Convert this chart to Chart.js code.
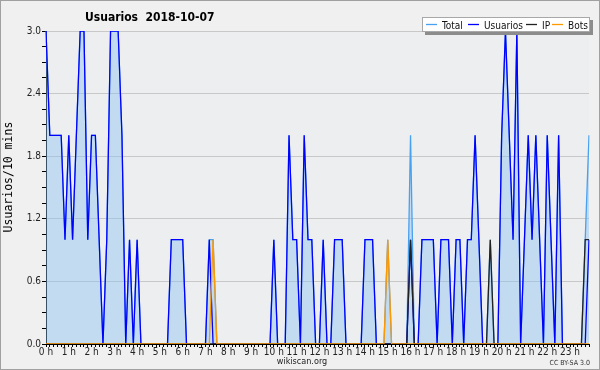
<!DOCTYPE html>
<html>
<head>
<meta charset="utf-8">
<title>Usuarios 2018-10-07</title>
<script src="https://cdn.jsdelivr.net/npm/chart.js@4.4.0/dist/chart.umd.min.js"></script>
<style>
  html, body { margin: 0; padding: 0; background: #f0f0f0; }
  canvas { display: block; }
</style>
</head>
<body>
<canvas id="chart" width="600" height="370"></canvas>
<script>
// una muestra cada 10 minutos, 144 por día
const hourLabels = ['0 h','1 h','2 h','3 h','4 h','5 h','6 h','7 h','8 h','9 h','10 h','11 h',
  '12 h','13 h','14 h','15 h','16 h','17 h','18 h','19 h','20 h','21 h','22 h','23 h'];

const timeSlots = [];
for (let h = 0; h < 24; h++) {
  for (let m = 0; m < 60; m += 10) {
    timeSlots.push(h + ':' + String(m).padStart(2, '0'));
  }
}

const total = [
  3,2,2,2,2,1,2,1,2,3,  3,1,2,2,1,0,1,3,3,3,  2,0,1,0,1,0,0,0,0,0,
  0,0,0,1,1,1,1,0,0,0,  0,0,0,1,1,0,0,0,0,0,  0,0,0,0,0,0,0,0,0,0,
  1,0,0,0,2,1,1,0,2,1,  1,0,0,1,0,0,1,1,1,0,  0,0,0,0,1,1,1,0,0,0,
  1,0,0,0,0,0,2,0,0,1,  1,1,1,0,1,1,1,0,1,1,  0,1,1,2,1,0,0,1,0,0,
  2,3,2,1,3,0,1,2,1,2,  1,0,2,1,0,2,0,0,0,0,  0,0,1,2
];

const usuarios = [
  3,2,2,2,2,1,2,1,2,3,  3,1,2,2,1,0,1,3,3,3,  2,0,1,0,1,0,0,0,0,0,
  0,0,0,1,1,1,1,0,0,0,  0,0,0,1,0,0,0,0,0,0,  0,0,0,0,0,0,0,0,0,0,
  1,0,0,0,2,1,1,0,2,1,  1,0,0,1,0,0,1,1,1,0,  0,0,0,0,1,1,1,0,0,0,
  0,0,0,0,0,0,1,0,0,1,  1,1,1,0,1,1,1,0,1,1,  0,1,1,2,1,0,0,0,0,0,
  2,3,2,1,3,0,1,2,1,2,  1,0,2,1,0,2,0,0,0,0,  0,0,0,1
];

const ip = [
  0,0,0,0,0,0,0,0,0,0,  0,0,0,0,0,0,0,0,0,0,  0,0,0,0,0,0,0,0,0,0,
  0,0,0,0,0,0,0,0,0,0,  0,0,0,0,0,0,0,0,0,0,  0,0,0,0,0,0,0,0,0,0,
  0,0,0,0,0,0,0,0,0,0,  0,0,0,0,0,0,0,0,0,0,  0,0,0,0,0,0,0,0,0,0,
  0,0,0,0,0,0,1,0,0,0,  0,0,0,0,0,0,0,0,0,0,  0,0,0,0,0,0,0,1,0,0,
  0,0,0,0,0,0,0,0,0,0,  0,0,0,0,0,0,0,0,0,0,  0,0,1,1
];

const bots = [
  0,0,0,0,0,0,0,0,0,0,  0,0,0,0,0,0,0,0,0,0,  0,0,0,0,0,0,0,0,0,0,
  0,0,0,0,0,0,0,0,0,0,  0,0,0,0,1,0,0,0,0,0,  0,0,0,0,0,0,0,0,0,0,
  0,0,0,0,0,0,0,0,0,0,  0,0,0,0,0,0,0,0,0,0,  0,0,0,0,0,0,0,0,0,0,
  1,0,0,0,0,0,0,0,0,0,  0,0,0,0,0,0,0,0,0,0,  0,0,0,0,0,0,0,0,0,0,
  0,0,0,0,0,0,0,0,0,0,  0,0,0,0,0,0,0,0,0,0,  0,0,0,0
];

const seriesNames = ['Total', 'Usuarios', 'IP', 'Bots'];
const seriesColors = ['#48a0f0', '#0000ff', '#222222', '#ff9900'];

const FONT = "'DejaVu Sans Condensed', 'DejaVu Sans', sans-serif";
const MONO = "'DejaVu Sans Mono', monospace";

function isMajor(v) {
  return Math.abs(v / 0.6 - Math.round(v / 0.6)) < 1e-6;
}

// fondo, títulos, leyenda y pie
const decoPlugin = {
  id: 'deco',
  beforeDraw(chart) {
    const { ctx, chartArea: a } = chart;
    ctx.save();
    ctx.fillStyle = '#f0f0f0';
    ctx.fillRect(0, 0, chart.width, chart.height);
    ctx.fillStyle = '#edeef0';
    ctx.fillRect(a.left, a.top, a.right - a.left, a.bottom - a.top);
    ctx.restore();
  },
  afterDraw(chart) {
    const ctx = chart.ctx;
    ctx.save();

    // marco exterior
    ctx.strokeStyle = '#a0a0a0';
    ctx.lineWidth = 1;
    ctx.strokeRect(0.5, 0.5, chart.width - 1, chart.height - 1);

    // título
    ctx.fillStyle = '#000';
    ctx.font = "bold 12px " + FONT;
    ctx.textBaseline = 'alphabetic';
    ctx.textAlign = 'left';
    ctx.fillText('Usuarios  2018-10-07', 85, 21);

    // título del eje y
    ctx.save();
    ctx.translate(9, 177);
    ctx.rotate(-Math.PI / 2);
    ctx.font = "11.5px " + MONO;
    ctx.textAlign = 'center';
    ctx.textBaseline = 'middle';
    ctx.fillText('Usuarios/10 mins', 0, 0);
    ctx.restore();

    // leyenda
    ctx.fillStyle = '#8c8c8c';
    ctx.fillRect(425, 20, 168, 15);
    ctx.fillStyle = '#ffffff';
    ctx.fillRect(422, 17, 168, 15);
    ctx.strokeStyle = '#a8a8a8';
    ctx.strokeRect(422.5, 17.5, 167, 14);

    ctx.font = "10px " + FONT;
    const legendX = [426, 468, 526, 552];
    seriesNames.forEach((name, i) => {
      const x = legendX[i];
      ctx.strokeStyle = seriesColors[i];
      ctx.lineWidth = 1.3;
      ctx.beginPath();
      ctx.moveTo(x, 24.5);
      ctx.lineTo(x + 11, 24.5);
      ctx.stroke();
      ctx.fillStyle = '#111';
      ctx.fillText(name, x + 16, 28.5);
    });

    // pie
    ctx.font = "9px " + FONT;
    ctx.fillStyle = '#222';
    ctx.textAlign = 'center';
    ctx.fillText('wikiscan.org', 302, 364);

    ctx.font = "7px " + FONT;
    ctx.fillStyle = '#333';
    ctx.textAlign = 'right';
    ctx.fillText('CC BY-SA 3.0', 590, 365);
    ctx.restore();
  }
};

const ctx = document.getElementById('chart').getContext('2d');

new Chart(ctx, {
  type: 'line',
  data: {
    labels: timeSlots,
    datasets: [
      {
        label: 'Total',
        data: total,
        borderColor: seriesColors[0],
        backgroundColor: 'rgba(137, 193, 240, 0.42)',
        fill: 'origin',
        order: 4
      },
      {
        label: 'Usuarios',
        data: usuarios,
        borderColor: seriesColors[1],
        fill: false,
        order: 3
      },
      {
        label: 'IP',
        data: ip,
        borderColor: seriesColors[2],
        fill: false,
        order: 2
      },
      {
        label: 'Bots',
        data: bots,
        borderColor: seriesColors[3],
        fill: false,
        order: 1
      }
    ]
  },
  options: {
    responsive: false,
    animation: false,
    devicePixelRatio: 1,
    elements: {
      line: { borderWidth: 1.3, tension: 0 },
      point: { radius: 0, hoverRadius: 0 }
    },
    layout: {
      padding: { top: 31, right: 11, bottom: 0, left: 0 }
    },
    plugins: {
      legend: { display: false },
      title: { display: false },
      tooltip: { enabled: false }
    },
    scales: {
      x: {
        type: 'category',
        offset: false,
        z: 1,
        border: { color: '#000', width: 1 },
        grid: {
          drawOnChartArea: false,
          drawTicks: true,
          tickLength: 3,
          tickColor: '#000',
          offset: false
        },
        ticks: {
          autoSkip: false,
          maxRotation: 0,
          minRotation: 0,
          padding: -1,
          color: '#222',
          font: { family: FONT, size: 10 },
          callback: (value, index) => (index % 6 === 0 ? hourLabels[index / 6] : '')
        },
        afterFit(scale) { scale.height = 26; }
      },
      y: {
        min: 0,
        max: 3,
        border: { color: '#000', width: 1 },
        grid: {
          color: c => (isMajor(c.tick.value) ? '#c8c8c8' : 'rgba(0,0,0,0)'),
          tickColor: '#000',
          tickLength: 4
        },
        ticks: {
          stepSize: 0.15,
          maxTicksLimit: 40,
          autoSkip: false,
          padding: 1,
          color: '#222',
          font: { family: FONT, size: 10 },
          callback: v => (isMajor(v) ? v.toFixed(1) : '')
        },
        afterFit(scale) { scale.width = 46; }
      }
    }
  },
  plugins: [decoPlugin]
});
</script>
</body>
</html>
